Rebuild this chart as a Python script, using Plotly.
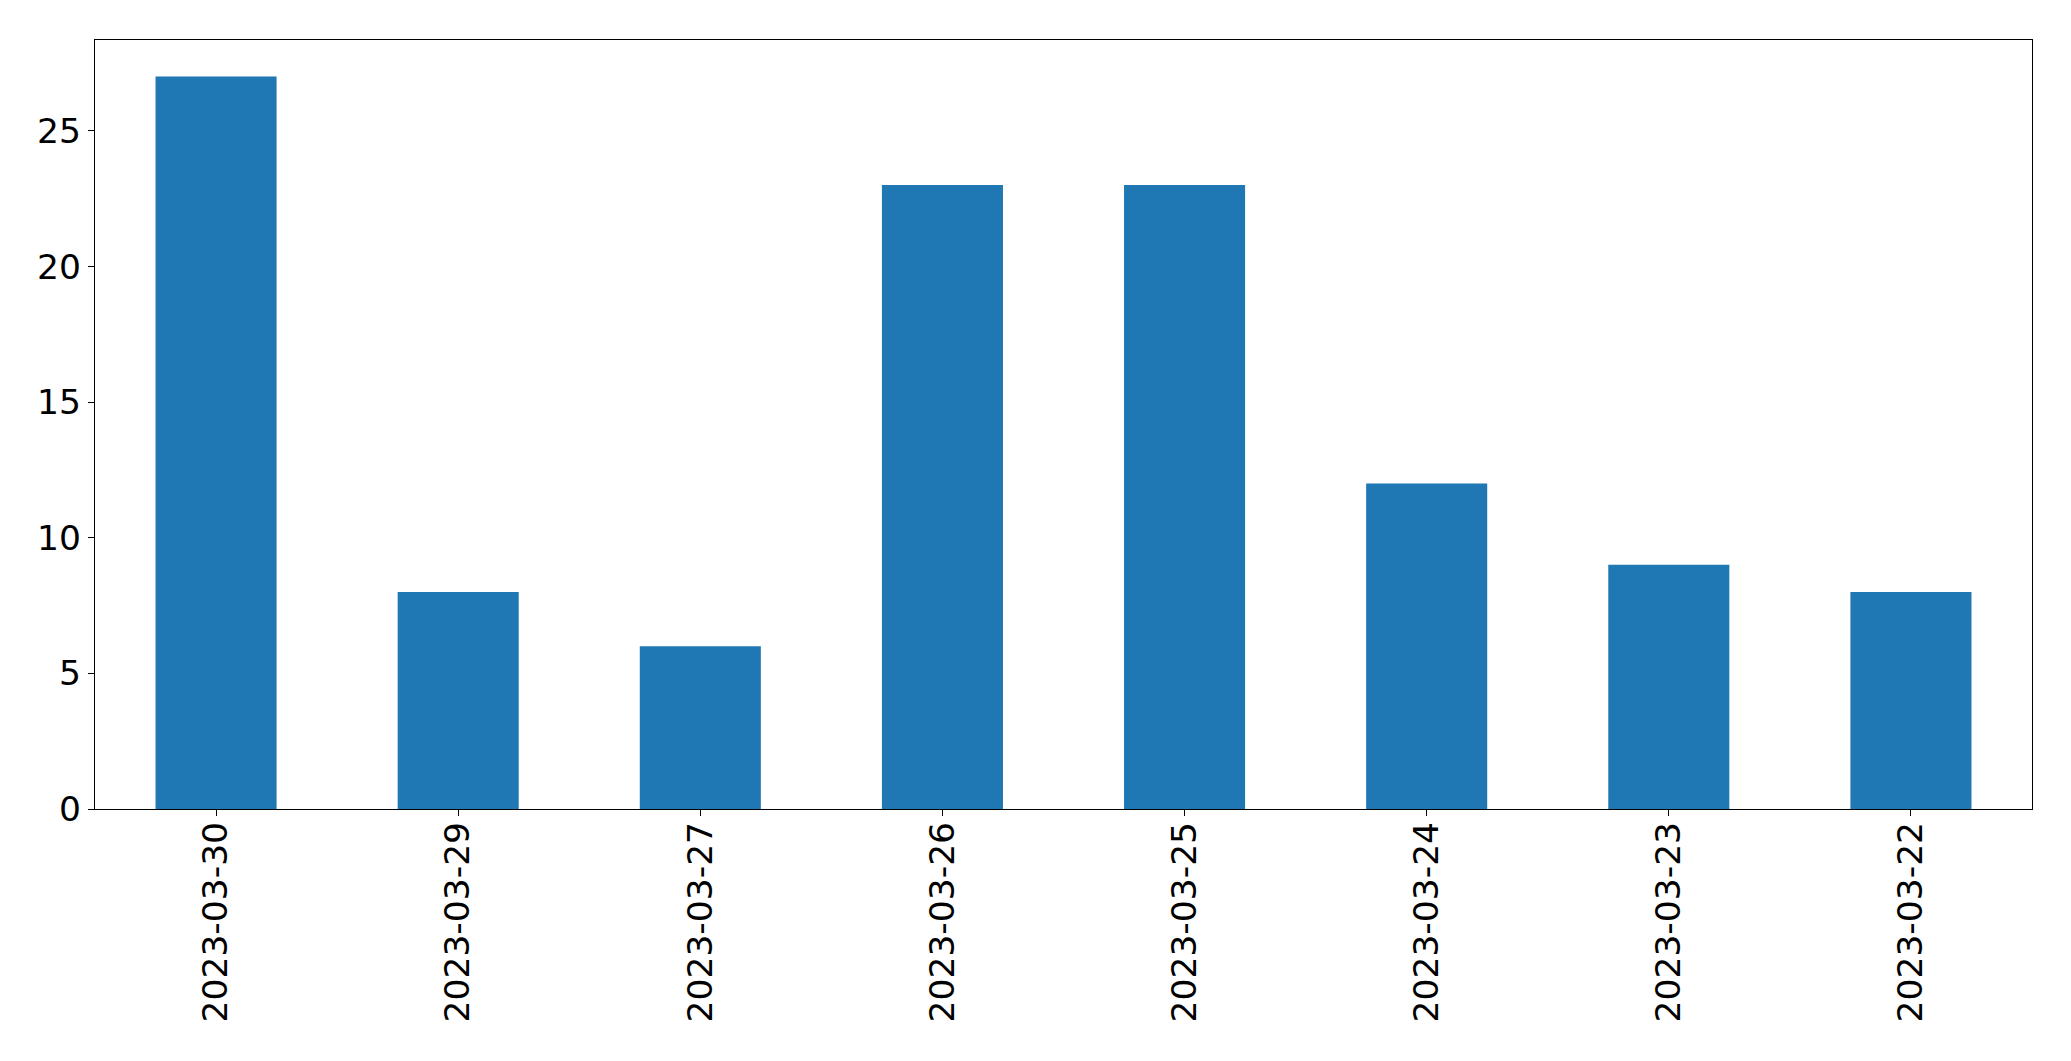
import plotly.graph_objects as go

dates = ["2023-03-30", "2023-03-29", "2023-03-27", "2023-03-26",
         "2023-03-25", "2023-03-24", "2023-03-23", "2023-03-22"]
counts = [27, 8, 6, 23, 23, 12, 9, 8]
y_ticks = [0, 5, 10, 15, 20, 25]

fig = go.Figure(go.Bar(x=dates, y=counts, marker_color="#1f77b4",
                       marker_line_width=0, width=0.5))

fig.update_layout(
    width=2055, height=1045,
    margin=dict(l=86.5, r=31.3, t=31.5, b=244, autoexpand=False),
    paper_bgcolor="white", plot_bgcolor="white",
    font=dict(family="DejaVu Sans", size=34.5, color="black"),
    showlegend=False,
)
fig.update_xaxes(type="category", range=[-0.5, 7.5], tickangle=-90,
                 showline=True, linecolor="black", linewidth=1.3, mirror=True,
                 ticks="outside", ticklen=6, tickcolor="black", tickwidth=1.3,
                 showgrid=False, zeroline=False, ticklabelstandoff=-8)
fig.update_yaxes(range=[0, 28.35], tickvals=y_ticks,
                 showline=True, linecolor="black", linewidth=1.3, mirror=True,
                 ticks="outside", ticklen=6, tickcolor="black", tickwidth=1.3,
                 showgrid=False, zeroline=False)

fig.write_html("out.html")
